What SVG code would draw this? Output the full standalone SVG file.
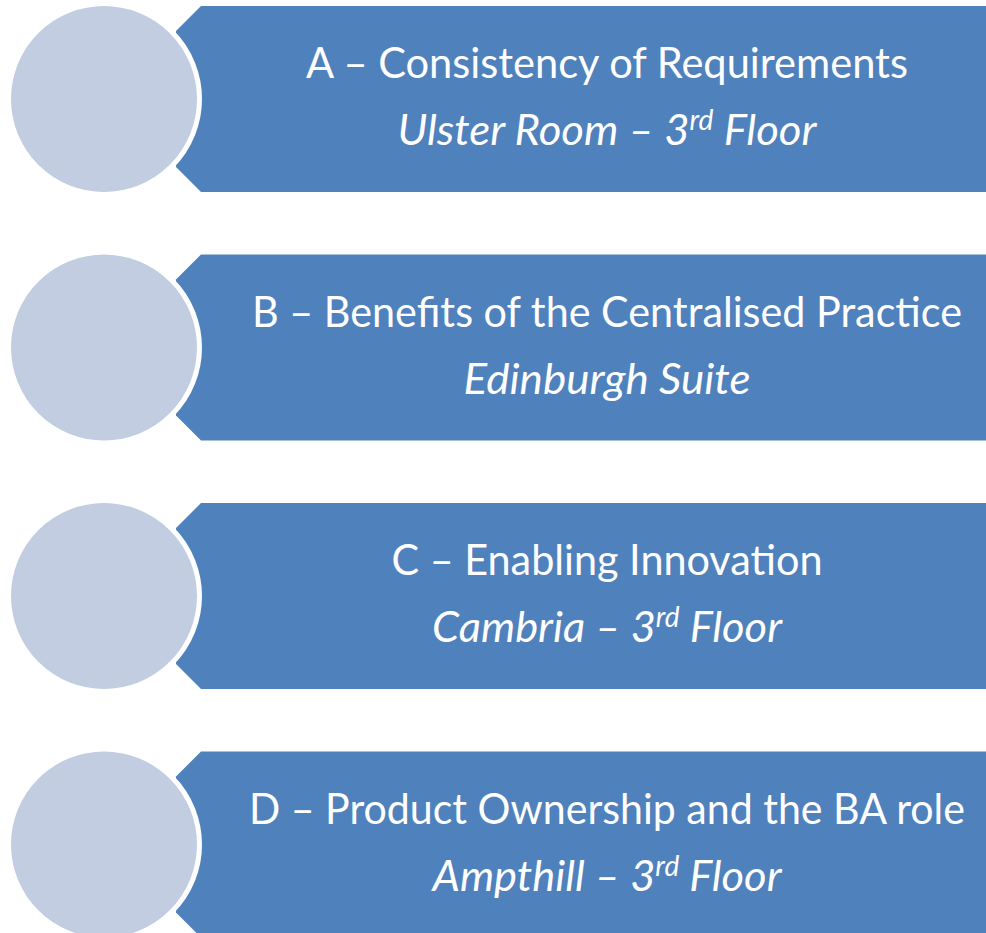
<svg xmlns="http://www.w3.org/2000/svg" width="986" height="933" viewBox="0 0 986 933">
  <style>
    .banner { fill: #4F81BD; }
    .disc { fill: #C3CDE1; stroke: #FFFFFF; stroke-width: 5; }
    .title { font-family: Lato, "Open Sans", sans-serif; font-size: 42px; fill: #FFFFFF; text-anchor: middle; }
    .room { font-family: Lato, "Open Sans", sans-serif; font-size: 43.5px; font-style: italic; fill: #FFFFFF; text-anchor: middle; }
    .sup { font-size: 28px; }
  </style>
  <defs>
    <!-- banner with clipped left corners, height 186 -->
    <path id="bannerShape" d="M201,0 H986 V186 H201 L176,161 V25 Z"/>
  </defs>

  <g id="session-a" transform="translate(0,6)">
    <use href="#bannerShape" class="banner"/>
    <circle class="disc" cx="104" cy="93" r="95.5"/>
    <text class="title" x="607" y="72" textLength="602" lengthAdjust="spacingAndGlyphs">A – Consistency of Requirements</text>
    <text class="room" x="607" y="139" textLength="419" lengthAdjust="spacingAndGlyphs">Ulster Room – 3<tspan class="sup" dy="-15">rd</tspan><tspan dy="15"> Floor</tspan></text>
  </g>

  <g id="session-b" transform="translate(0,254.5)">
    <use href="#bannerShape" class="banner"/>
    <circle class="disc" cx="104" cy="93" r="95.5"/>
    <text class="title" x="607" y="72" textLength="710" lengthAdjust="spacingAndGlyphs">B – Benefits of the Centralised Practice</text>
    <text class="room" x="607" y="139" textLength="287" lengthAdjust="spacingAndGlyphs">Edinburgh Suite</text>
  </g>

  <g id="session-c" transform="translate(0,503)">
    <use href="#bannerShape" class="banner"/>
    <circle class="disc" cx="104" cy="93" r="95.5"/>
    <text class="title" x="607" y="72" textLength="431" lengthAdjust="spacingAndGlyphs">C – Enabling Innovation</text>
    <text class="room" x="607" y="139" textLength="350" lengthAdjust="spacingAndGlyphs">Cambria – 3<tspan class="sup" dy="-15">rd</tspan><tspan dy="15"> Floor</tspan></text>
  </g>

  <g id="session-d" transform="translate(0,751.5)">
    <use href="#bannerShape" class="banner"/>
    <circle class="disc" cx="104" cy="93" r="95.5"/>
    <text class="title" x="607" y="72" textLength="716" lengthAdjust="spacingAndGlyphs">D – Product Ownership and the BA role</text>
    <text class="room" x="607" y="139" textLength="349" lengthAdjust="spacingAndGlyphs">Ampthill – 3<tspan class="sup" dy="-15">rd</tspan><tspan dy="15"> Floor</tspan></text>
  </g>
</svg>
